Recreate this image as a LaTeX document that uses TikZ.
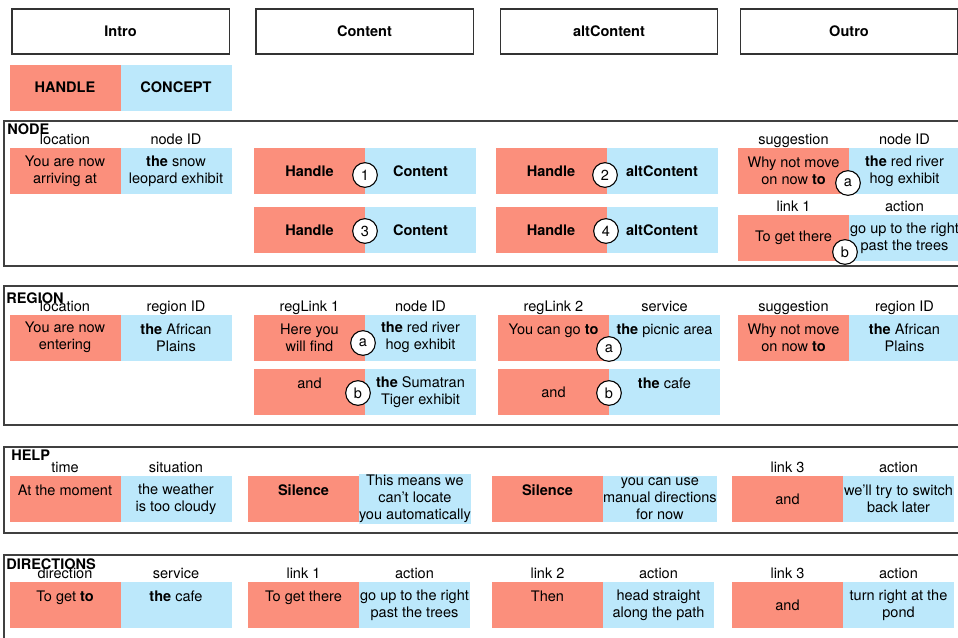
\documentclass[tikz,border=0pt]{standalone}
\usepackage{fontspec}
\setmainfont{TeX Gyre Heros}
\usetikzlibrary{positioning}
\definecolor{handlered}{RGB}{251,143,124}
\definecolor{conceptblue}{RGB}{188,232,251}
\begin{document}
\begin{tikzpicture}[x=0.75pt,y=-0.75pt,font=\fontsize{10.9}{12.75}\selectfont]
	\useasboundingbox (0,0) rectangle (958,637);
	\tikzstyle{head}=[draw=black!80, line width=1pt, minimum width=163pt, minimum height=33.75pt]
	\tikzstyle{hcell}=[fill=handlered, minimum width=83.25pt, minimum height=34.5pt, inner xsep=0pt, inner ysep=1pt, outer sep=0pt, align=center]
	\tikzstyle{ccell}=[hcell, fill=conceptblue]
	\tikzstyle{badge}=[circle, draw=black, fill=white, thick, minimum size=18.5pt, inner sep=0pt]
	\tikzstyle{sectitle}=[anchor=north west, inner sep=0pt]
	\tikzstyle{frame}=[draw=black!75, line width=1.5pt]
	\tikzset{every label/.style={inner sep=1pt, text height=1.5ex, text depth=.25ex}}

	% column heads
	\node[head] (intro)   at (120.5,31.5) {\textbf{Intro}};
	\node[head] (content) at (364.5,31.5) {\textbf{Content}};
	\node[head] (alt)     at (609,31.5)   {\textbf{altContent}};
	\node[head] (outro)   at (849,31.5)   {\textbf{Outro}};
	\node[hcell] (handle) at (65,87.5) {\textbf{HANDLE}};
	\node[ccell, right=0pt of handle] (concept) {\textbf{CONCEPT}};

	% NODE
	\draw[frame] (4,121) rectangle (975,266);
	\node[sectitle] (NODE) at (7,123) {\textbf{NODE}};
	\node[hcell, label=above:location] 			(NIh) at (65,171) {You are now\\arriving at};
	\node[ccell, right=0pt of NIh, label=above:node ID] 	(NIc) {\textbf{the} snow\\leopard exhibit};
	\node[hcell] 				(NC1h) at (309.5,171) {\textbf{Handle}};
	\node[ccell, right=0pt of NC1h] 	(NC1c) {\textbf{Content}};
	\node[hcell] 				(NC2h) at (309.5,230) {\textbf{Handle}};
	\node[ccell, right=0pt of NC2h] 	(NC2c) {\textbf{Content}};
	\node[hcell] 				(NA1h) at (551,171) {\textbf{Handle}};
	\node[ccell, right=0pt of NA1h] 	(NA1c) {\textbf{altContent}};
	\node[hcell] 				(NA2h) at (551,230) {\textbf{Handle}};
	\node[ccell, right=0pt of NA2h] 	(NA2c) {\textbf{altContent}};
	\node[hcell, label=above:suggestion] 	(NO1h) at (793.5,171) {Why not move\\on now \textbf{to}};
	\node[ccell, right=0pt of NO1h, label=above:node ID] 	(NO1c) {\textbf{the} red river\\hog exhibit};
	\node[hcell, label=above:link 1] 	(NO2h) at (793.5,238) {To get there};
	\node[ccell, right=0pt of NO2h, label=above:action] 	(NO2c) {go up to the right\\past the trees};
	\node[badge] (n1) at (365,175) {1};
	\node[badge] (n3) at (365,231) {3};
	\node[badge] (n2) at (605,175) {2};
	\node[badge] (n4) at (606,231) {4};
	\node[badge] (na) at (848,183) {a};
	\node[badge] (nb) at (845,252) {b};

	% REGION
	\draw[frame] (4,286) rectangle (975,425);
	\node[sectitle] (REGION) at (6,292) {\textbf{REGION}};
	\node[hcell, label=above:location] 			(RIh) at (65,337.5) {You are now\\entering};
	\node[ccell, right=0pt of RIh, label=above:region ID] 	(RIc) {\textbf{the} African\\Plains};
	\node[hcell, label=above:regLink 1] 	(RC1h) at (309.5,337.5) {Here you\\will find};
	\node[ccell, right=0pt of RC1h, label=above:node ID] 	(RC1c) {\textbf{the} red river\\hog exhibit};
	\node[hcell] 				(RC2h) at (309.5,392) {and\\\mbox{}};
	\node[ccell, right=0pt of RC2h] 	(RC2c) {\textbf{the} Sumatran\\Tiger exhibit};
	\node[hcell, label=above:regLink 2] 	(RA1h) at (553.5,337.5) {You can go \textbf{to}\\\mbox{}};
	\node[ccell, right=0pt of RA1h, label=above:service] 	(RA1c) {\textbf{the} picnic area\\\mbox{}};
	\node[hcell] 				(RA2h) at (553.5,392) {and};
	\node[ccell, right=0pt of RA2h] 	(RA2c) {\textbf{the} cafe\\\mbox{}};
	\node[hcell, label=above:suggestion] 	(RO1h) at (793.5,337.5) {Why not move\\on now \textbf{to}};
	\node[ccell, right=0pt of RO1h, label=above:region ID] 	(RO1c) {\textbf{the} African\\Plains};
	\node[badge] (ra) at (363,343) {a};
	\node[badge] (rb) at (358,393) {b};
	\node[badge] (ra2) at (609,349) {a};
	\node[badge] (rb2) at (609,393) {b};

	% HELP
	\draw[frame] (4,447) rectangle (975,533);
	\node[sectitle] (HELP) at (11,450) {\textbf{HELP}};
	\node[hcell, label=above:time] 		(HIh) at (65,499) {At the moment\\\mbox{}};
	\node[ccell, right=0pt of HIh, label=above:situation] 	(HIc) {the weather\\is too cloudy};
	\node[hcell] 				(HCh) at (303.5,499) {\textbf{Silence}\\\mbox{}};
	\node[ccell, right=0pt of HCh] 	(HCc) {This means we\\can't locate\\you automatically};
	\node[hcell] 				(HAh) at (547.5,499) {\textbf{Silence}\\\mbox{}};
	\node[ccell, right=0pt of HAh] 	(HAc) {you can use\\manual directions\\for now};
	\node[hcell, label=above:link 3] 	(HOh) at (787.5,499) {and};
	\node[ccell, right=0pt of HOh, label=above:action] 	(HOc) {we'll try to switch\\back later};

	% DIRECTIONS
	\draw[frame] (4,555) rectangle (975,660);
	\node[sectitle] (DIRECTIONS) at (6,558) {\textbf{DIRECTIONS}};
	\node[hcell, label=above:direction] 	(DIh) at (65,605) {To get \textbf{to}\\\mbox{}};
	\node[ccell, right=0pt of DIh, label=above:service] 	(DIc) {\textbf{the} cafe\\\mbox{}};
	\node[hcell, label=above:link 1] 	(DCh) at (303.5,605) {To get there\\\mbox{}};
	\node[ccell, right=0pt of DCh, label=above:action] 	(DCc) {go up to the right\\past the trees};
	\node[hcell, label=above:link 2] 	(DAh) at (547.5,605) {Then\\\mbox{}};
	\node[ccell, right=0pt of DAh, label=above:action] 	(DAc) {head straight\\along the path};
	\node[hcell, label=above:link 3] 	(DOh) at (787.5,605) {and};
	\node[ccell, right=0pt of DOh, label=above:action] 	(DOc) {turn right at the\\pond};
\end{tikzpicture}
\end{document}
